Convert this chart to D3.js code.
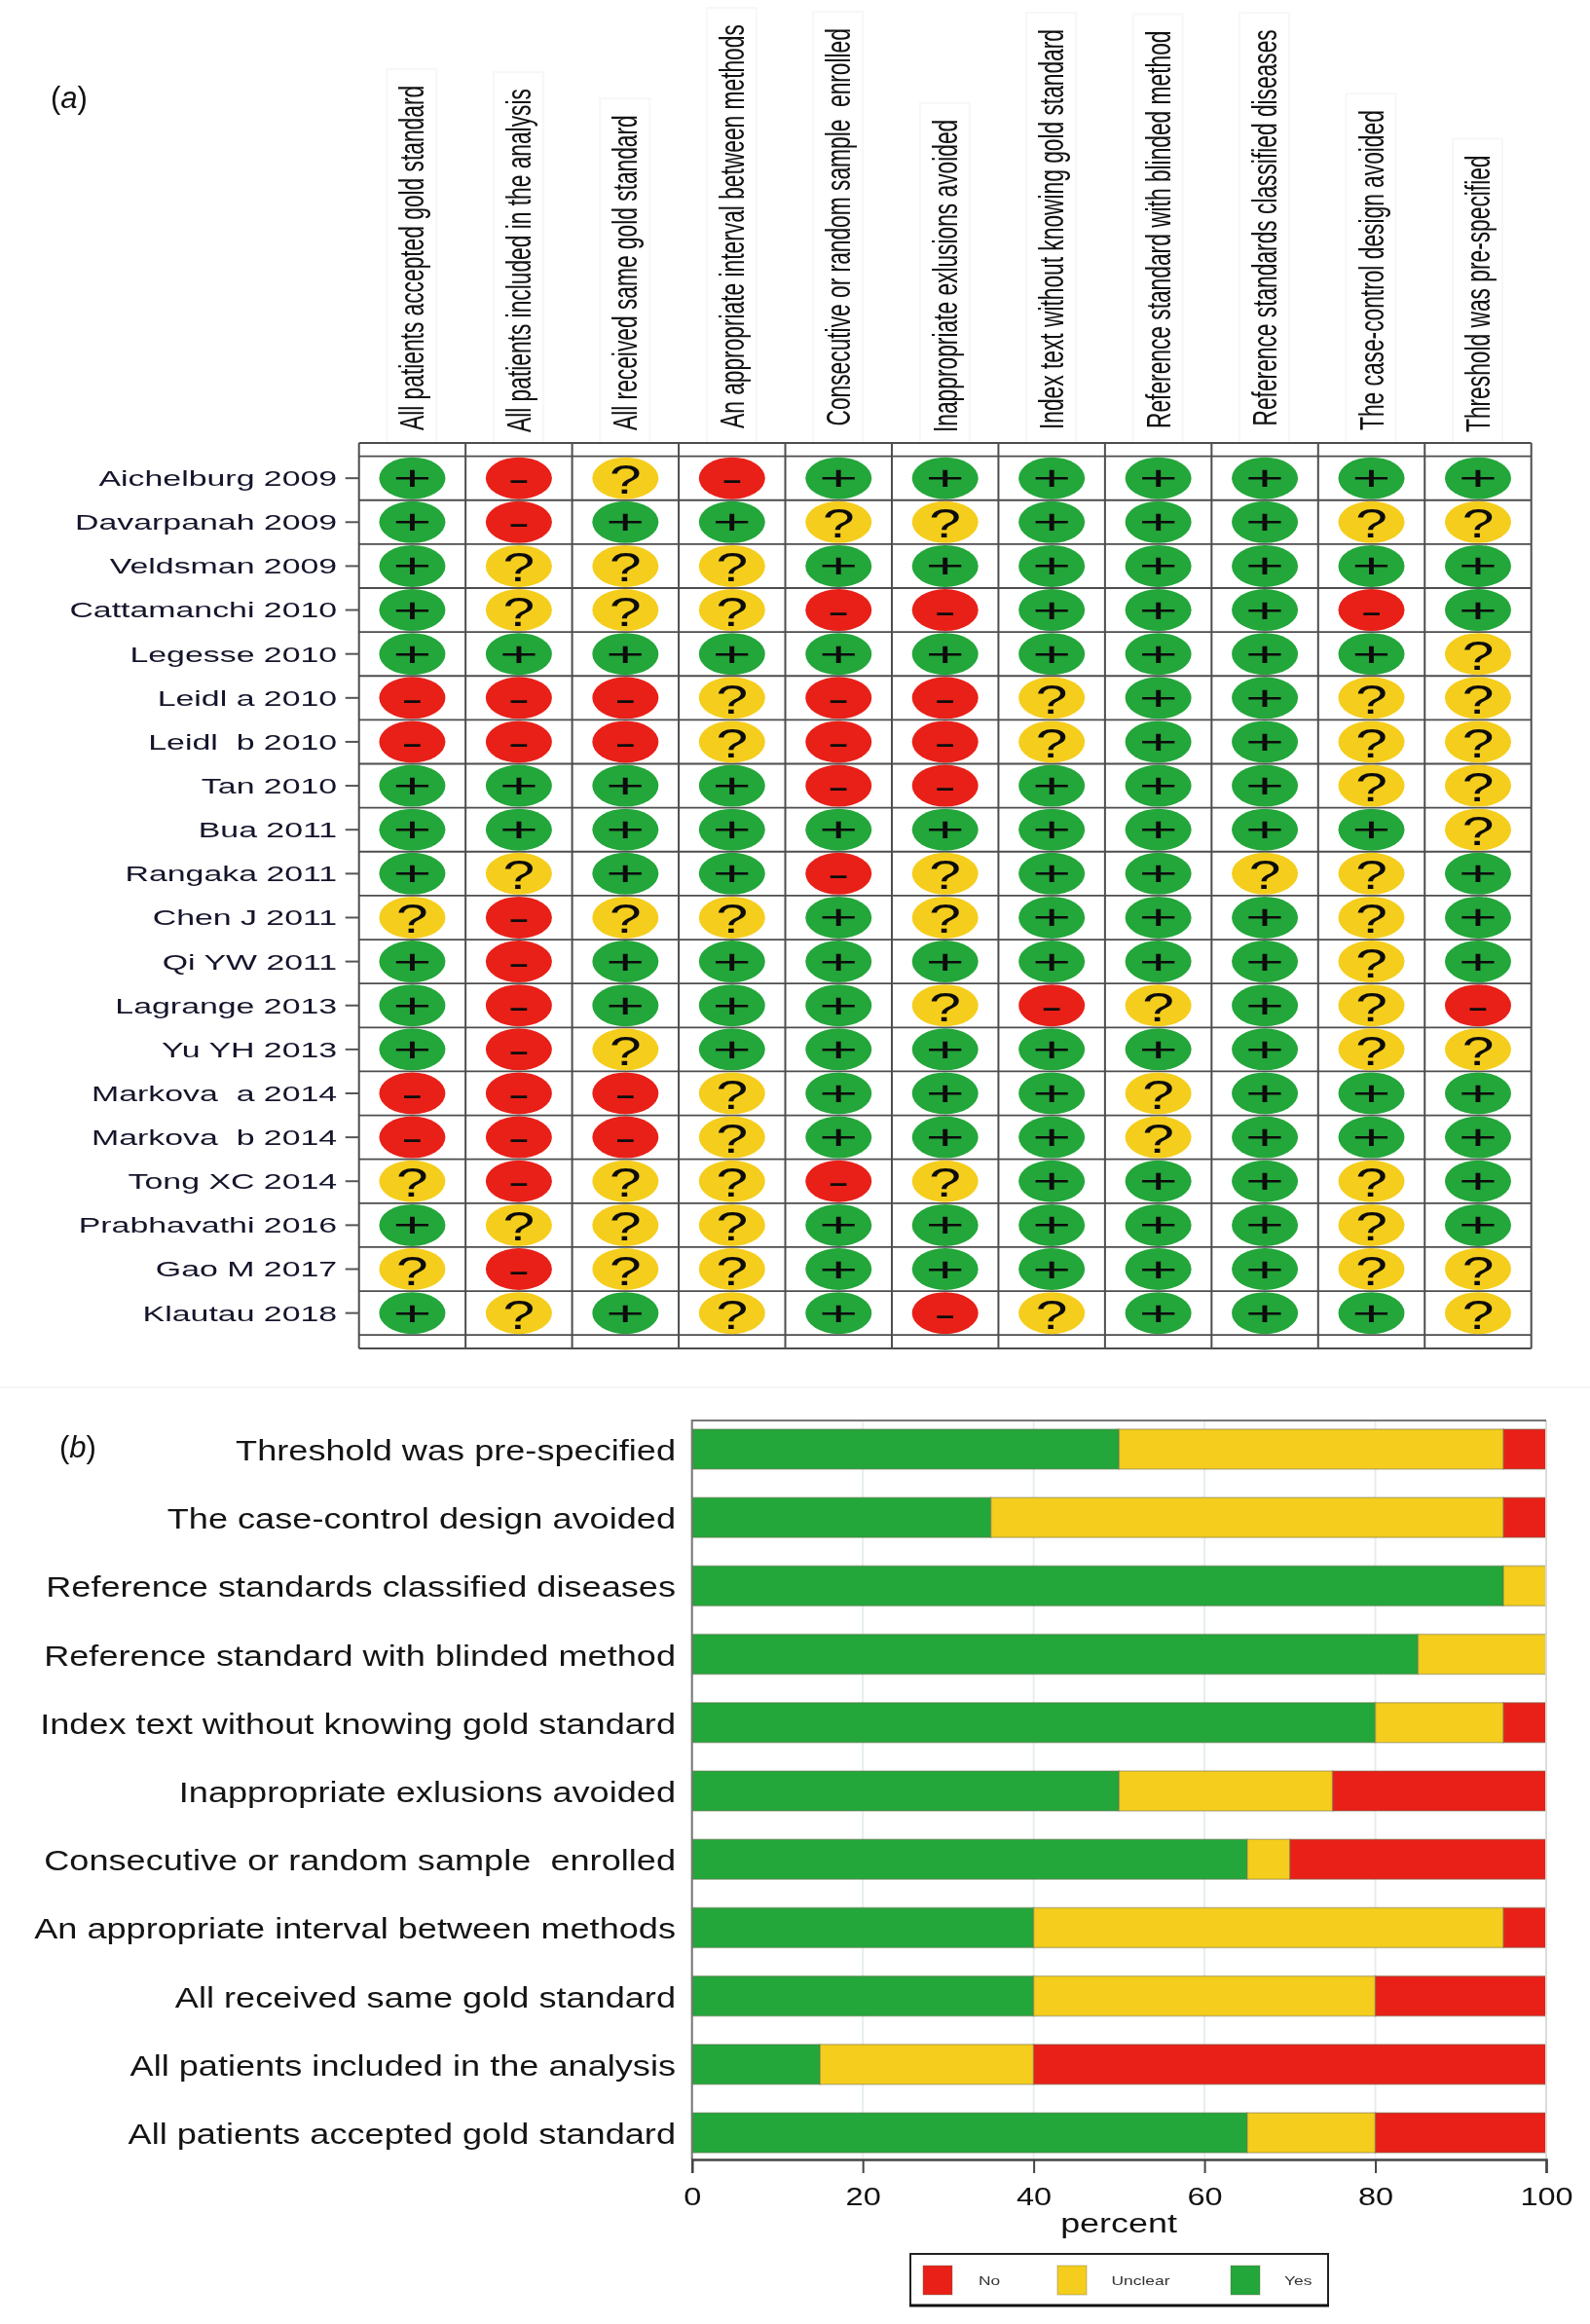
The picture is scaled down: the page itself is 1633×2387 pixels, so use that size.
<!DOCTYPE html>
<html><head><meta charset="utf-8">
<script src="https://cdn.jsdelivr.net/npm/d3@7"></script>
<style>
html,body{margin:0;padding:0;background:#fff}
svg{display:block;filter:blur(0.5px)}
text{font-family:"Liberation Sans",Arial,sans-serif;white-space:pre}
</style></head><body>
<svg id="c" width="1633" height="2387"></svg>
<script>
const domains = ["All patients accepted gold standard","All patients included in the analysis","All received same gold standard","An appropriate interval between methods","Consecutive or random sample  enrolled","Inappropriate exlusions avoided","Index text without knowing gold standard","Reference standard with blinded method","Reference standards classified diseases","The case-control design avoided","Threshold was pre-specified"];
const studies = ["Aichelburg 2009","Davarpanah 2009","Veldsman 2009","Cattamanchi 2010","Legesse 2010","Leidl a 2010","Leidl  b 2010","Tan 2010","Bua 2011","Rangaka 2011","Chen J 2011","Qi YW 2011","Lagrange 2013","Yu YH 2013","Markova  a 2014","Markova  b 2014","Tong XC 2014","Prabhavathi 2016","Gao M 2017","Klautau 2018"];
const judgements = ["+-?-+++++++","+-++??+++??","+???+++++++","+???--+++-+","++++++++++?","---?--?++??","---?--?++??","++++--+++??","++++++++++?","+?++-?++??+","?-??+?+++?+","+-+++++++?+","+-+++?-?+?-","+-?++++++??","---?+++?+++","---?+++?+++","?-??-?+++?+","+???+++++?+","?-??+++++??","+?+?+-?+++?"];
const barCategories = ["Threshold was pre-specified","The case-control design avoided","Reference standards classified diseases","Reference standard with blinded method","Index text without knowing gold standard","Inappropriate exlusions avoided","Consecutive or random sample  enrolled","An appropriate interval between methods","All received same gold standard","All patients included in the analysis","All patients accepted gold standard"];
const yesPct = [50,35,95,85,80,50,65,40,40,15,65];
const unclearPct = [45,60,5,15,15,25,5,55,40,25,15];
const noPct = [5,5,0,0,5,25,30,5,20,60,20];
const percentTicks = [0,20,40,60,80,100];
const legendLabels = ["No","Unclear","Yes"];

const GREEN="#23a63a",YELLOW="#f5cd1c",RED="#e82018";
const svg=d3.select("#c");

svg.append("line").attr("x1",0).attr("x2",1633).attr("y1",1425).attr("y2",1425).attr("stroke","#f6f6f6").attr("stroke-width",2);

function panelLabel(letter,x,y){
  const t=svg.append("text").attr("x",x).attr("y",y).attr("font-size",31).attr("fill","#111");
  t.append("tspan").text("(");
  t.append("tspan").attr("font-style","italic").text(letter);
  t.append("tspan").text(")");
}
panelLabel("a",52,111);
panelLabel("b",61,1497);

/* ---------- panel a ---------- */
const gx=d3.scaleBand().domain(domains).range([368.7,1572.7]);
const gy=d3.scaleBand().domain(studies).range([468.6,1371.2]);
const gridTop=455,gridBottom=1385;
const A=svg.append("g");

const headBottoms=[442,444,442,440,437.5,444,441,440,437.5,442,444];
const heads=A.append("g").selectAll("g").data(domains).join("g");
const colSx=0.632;
heads.each(function(d,i){
  const g=d3.select(this), cx=gx(d)+gx.bandwidth()/2, b=headBottoms[i];
  const t=g.append("text").text(d).attr("font-size",36).attr("fill","#111")
    .attr("transform",`translate(${cx+12},${b}) rotate(-90) scale(${colSx},1)`);
  const len=t.node().getComputedTextLength()*colSx;
  g.insert("rect","text").attr("x",cx-26).attr("width",51).attr("y",b-len-17).attr("height",gridTop-(b-len-17))
    .attr("fill","#fff").attr("stroke","#f7f7f7").attr("stroke-width",2);
});

const gridColor="#4d4d4d";
const vLines=[...domains.map(d=>gx(d)),gx.range()[1]];
A.append("g").selectAll("line").data(vLines).join("line")
  .attr("x1",d=>d).attr("x2",d=>d).attr("y1",gridTop).attr("y2",gridBottom)
  .attr("stroke",gridColor).attr("stroke-width",2);
const hLines=[gridTop,...studies.map(d=>gy(d)),gy.range()[1],gridBottom];
A.append("g").selectAll("line").data(hLines).join("line")
  .attr("x1",gx.range()[0]).attr("x2",gx.range()[1]).attr("y1",d=>d).attr("y2",d=>d)
  .attr("stroke",gridColor).attr("stroke-width",1.8);

const rowSx=1.54;
const rowAxis=A.append("g").attr("transform",`translate(${gx.range()[0]},0)`)
  .call(d3.axisLeft(gy).tickSize(14));
rowAxis.select(".domain").remove();
rowAxis.selectAll("line").attr("stroke","#555").attr("stroke-width",2);
rowAxis.selectAll("text").attr("font-size",22).attr("fill","#14142a")
  .attr("x",-22.5/rowSx).attr("dy","0.36em").attr("transform",`scale(${rowSx},1)`);
rowAxis.attr("font-family",null).attr("font-size",null);

const cells=[];
judgements.forEach((row,i)=>{[...row].forEach((v,j)=>cells.push({study:studies[i],domain:domains[j],v}));});
const fill={"+":GREEN,"?":YELLOW,"-":RED};
const glyph={
  "+":{size:36,sx:1.9,dy:12},
  "-":{size:36,sx:1.9,dy:13},
  "?":{size:42,sx:1.4,dy:16}
};
const cg=A.append("g").selectAll("g").data(cells).join("g")
  .attr("transform",d=>`translate(${gx(d.domain)+gx.bandwidth()/2},${gy(d.study)+gy.bandwidth()/2})`);
cg.append("ellipse").attr("rx",34).attr("ry",21.5).attr("fill",d=>fill[d.v]);
cg.append("text").text(d=>d.v).attr("text-anchor","middle").attr("fill","#0c0c0c")
  .attr("font-size",d=>glyph[d.v].size)
  .attr("transform",d=>`translate(0,${glyph[d.v].dy}) scale(${glyph[d.v].sx},1)`);

/* ---------- panel b ---------- */
const bx=d3.scaleLinear().domain([0,100]).range([710.7,1588]);
const by=d3.scaleBand().domain(barCategories).range([1460,2219]).paddingInner(0.416).paddingOuter(0.113);
const B=svg.append("g");

B.append("g").selectAll("line").data(percentTicks).join("line")
  .attr("x1",d=>bx(d)).attr("x2",d=>bx(d)).attr("y1",1459).attr("y2",2218)
  .attr("stroke","#e6eef0").attr("stroke-width",2);

const barRows=barCategories.map((c,i)=>({c,Yes:yesPct[i],Unclear:unclearPct[i],No:noPct[i]}));
const stack=d3.stack().keys(["Yes","Unclear","No"])(barRows);
const barFill={Yes:GREEN,Unclear:YELLOW,No:RED};
B.append("g").selectAll("g").data(stack).join("g").attr("fill",s=>barFill[s.key])
 .selectAll("rect").data(s=>s).join("rect")
  .attr("x",d=>bx(d[0])).attr("width",d=>bx(d[1])-bx(d[0]))
  .attr("y",d=>by(d.data.c)).attr("height",by.bandwidth())
  .attr("stroke","#6b6b50").attr("stroke-opacity",d=>d[1]>d[0]?0.4:0).attr("stroke-width",1.5);

B.append("line").attr("x1",bx(100)).attr("x2",bx(100)).attr("y1",1459).attr("y2",2218).attr("stroke","#d8dcd8").attr("stroke-width",2);
B.append("path").attr("d",`M${bx(0)},2218V1459H${bx(100)}`).attr("fill","none").attr("stroke","#777").attr("stroke-width",2);

const catSx=1.205;
B.append("g").selectAll("text").data(barCategories).join("text")
  .text(d=>d).attr("text-anchor","end").attr("font-size",30).attr("fill","#141414")
  .attr("transform",d=>`translate(694,${by(d)+by.bandwidth()/2+11.5}) scale(${catSx},1)`);

const tickSx=1.25;
const xAxis=B.append("g").attr("transform","translate(0,2218)")
  .call(d3.axisBottom(bx).tickValues(percentTicks).tickSize(14));
xAxis.select(".domain").attr("stroke","#444").attr("stroke-width",2.5);
xAxis.selectAll("line").attr("stroke","#444").attr("stroke-width",2);
xAxis.selectAll("text").attr("font-size",26).attr("fill","#111").attr("y",47).attr("dy",0)
  .attr("transform",`scale(${tickSx},1)`);
xAxis.attr("font-family",null).attr("font-size",null);
B.append("text").text("percent").attr("text-anchor","middle").attr("font-size",27).attr("fill","#111")
  .attr("transform",`translate(1149,2293) scale(1.33,1)`);

const L=svg.append("g");
L.append("rect").attr("x",935).attr("y",2315).attr("width",429).attr("height",53).attr("fill","#fff").attr("stroke","#222").attr("stroke-width",2);
L.append("line").attr("x1",934).attr("x2",1365).attr("y1",2368).attr("y2",2368).attr("stroke","#111").attr("stroke-width",3);
const legendSwatch=[948,1086,1264],legendText=[1005,1141.5,1319];
const legendFill={No:RED,Unclear:YELLOW,Yes:GREEN};
legendLabels.forEach((k,i)=>{
  L.append("rect").attr("x",legendSwatch[i]).attr("y",2327).attr("width",30).attr("height",30).attr("fill",legendFill[k]).attr("stroke","#6b6b50").attr("stroke-opacity",.4);
  L.append("text").text(k).attr("font-size",12).attr("fill","#333")
    .attr("transform",`translate(${legendText[i]},2347) scale(1.45,1)`);
});
</script>
</body></html>
